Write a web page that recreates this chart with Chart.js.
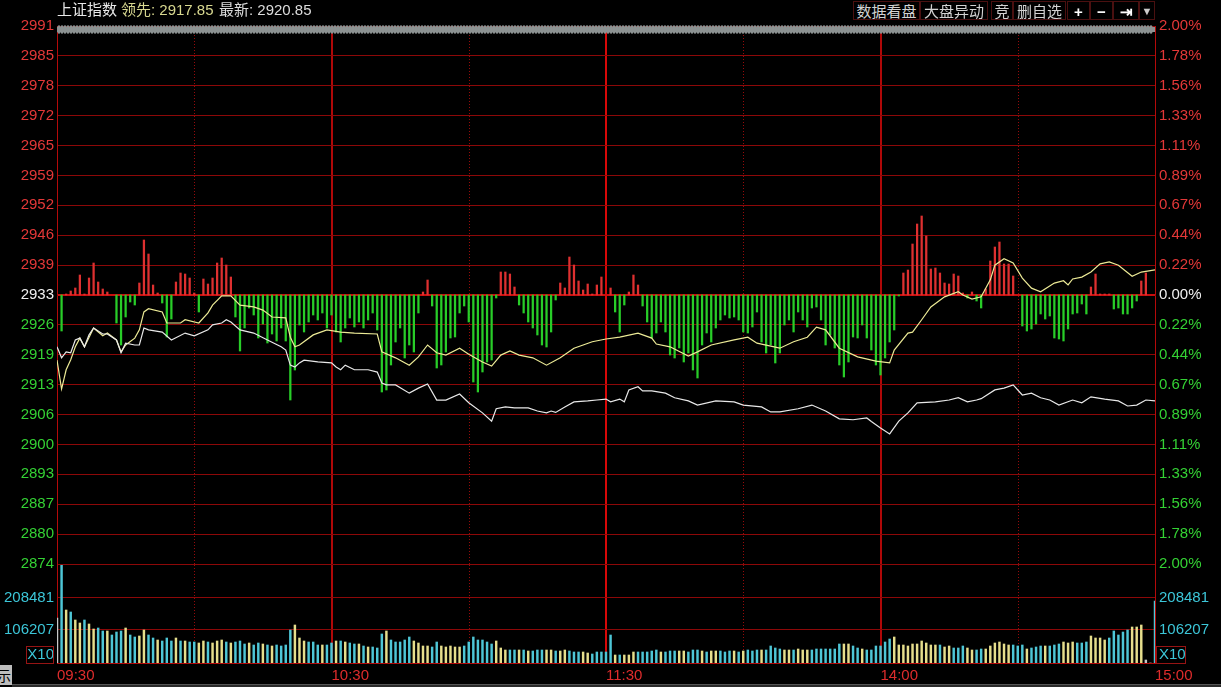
<!DOCTYPE html>
<html>
<head>
<meta charset="utf-8">
<script src="https://cdn.jsdelivr.net/npm/chart.js@4.4.1/dist/chart.umd.min.js"></script>
<style>
  body { margin: 0; background: #000; overflow: hidden; }
  #wrap { position: relative; width: 1221px; height: 687px; background: #000; }
  #wrap canvas { position: absolute; left: 0; top: 0; }
  .hdr { position: absolute; top: 1px; font: 15px "Liberation Sans", "Noto Sans CJK SC", sans-serif; line-height: 18px; white-space: nowrap; }
  .btn { position: absolute; top: 1px; height: 19px; border: 1px solid #4a1010; color: #d2d2d2; background: #000;
         font: 15px "Liberation Sans", "Noto Sans CJK SC", sans-serif; line-height: 19px; text-align: center; box-sizing: border-box; }
  .tab { position: absolute; left: 0; top: 665px; width: 12px; height: 20px; background: #bdbdbd; overflow: hidden;
         font: 14px "Noto Sans CJK SC", sans-serif; color: #000; line-height: 20px; text-indent: -3px; }
  .foot { position: absolute; left: 12px; top: 684px; width: 1209px; height: 3px; background: #2a2a2a; border-top: 1px solid #555; }
</style>
</head>
<body>
<div id="wrap">
  <canvas id="price" width="1221" height="687"></canvas>
  <canvas id="volume" width="1221" height="687"></canvas>

  <div class="hdr" style="left:57px;color:#e8e8e8">上证指数</div>
  <div class="hdr" style="left:121px;color:#d8d890">领先: 2917.85</div>
  <div class="hdr" style="left:219px;color:#dcdcdc">最新: 2920.85</div>

  <div class="btn" style="left:853px;width:67px">数据看盘</div>
  <div class="btn" style="left:920px;width:68px">大盘异动</div>
  <div class="btn" style="left:991px;width:22px">竞</div>
  <div class="btn" style="left:1013px;width:53px">删自选</div>
  <div class="btn" style="left:1067px;width:23px;font-weight:bold;color:#fff">+</div>
  <div class="btn" style="left:1090px;width:23px;font-weight:bold;color:#fff">−</div>
  <div class="btn" style="left:1113px;width:26px;font-weight:bold;color:#fff">⇥</div>
  <div class="btn" style="left:1139px;width:16px;font-size:11px;color:#ccc">▼</div>

  <div class="tab">示</div>
  <div class="foot"></div>
</div>

<script>
// ---- data ----
const prevClose = 2932.6;

const leftLabels = ['2991', '2985', '2978', '2972', '2965', '2959', '2952', '2946', '2939', '2933',
                    '2926', '2919', '2913', '2906', '2900', '2893', '2887', '2880', '2874'];
const rightLabels = ['2.00%', '1.78%', '1.56%', '1.33%', '1.11%', '0.89%', '0.67%', '0.44%', '0.22%', '0.00%',
                     '0.22%', '0.44%', '0.67%', '0.89%', '1.11%', '1.33%', '1.56%', '1.78%', '2.00%'];
const timeLabels = ['09:30', '10:30', '11:30', '14:00', '15:00'];
const volLabels = ['X10', '106207', '208481'];
const volTicks = [25600, 106207, 208481];

// white line (index) : minute, value
const whiteT = [0, 1, 2, 3, 4, 5, 6, 7, 8, 10, 11, 13, 14, 15, 17, 18, 19, 20, 23, 25, 28, 30, 33, 34, 36, 37, 38, 40, 43, 46,
  49, 50, 51, 52, 53, 54, 57, 60, 61, 62, 63, 65, 68, 70, 71, 72, 74, 77, 79, 81, 83, 85, 88, 90, 93, 95, 96, 98, 100, 103,
  105, 107, 108, 109, 111, 113, 116, 118, 120, 121, 123, 124, 125, 127, 128, 130, 133, 135, 138, 140, 144, 148, 150, 154, 156, 158, 162, 165, 168, 171,
  174, 177, 178, 180, 182, 184, 186, 188, 192, 195, 197, 199, 201, 202, 205, 207, 209, 211, 213, 215, 217, 219, 222, 224, 226, 229, 232, 234, 236, 238, 240];
const whiteV = [2921.3, 2918.9, 2920.2, 2920.0, 2922.8, 2923.2, 2921.3, 2923.9, 2925.4, 2924.1, 2924.1, 2922.8, 2920.0, 2922.1, 2921.7, 2921.7, 2925.4, 2925.0, 2924.5, 2922.8, 2924.3, 2923.7, 2925.0, 2926.1, 2926.5, 2927.2, 2926.7, 2925.0, 2924.3, 2922.8,
  2921.3, 2920.6, 2917.3, 2916.9, 2917.8, 2918.4, 2918.0, 2917.8, 2916.9, 2916.3, 2917.3, 2916.3, 2916.3, 2915.8, 2913.4, 2913.0, 2913.0, 2911.2, 2912.3, 2913.2, 2909.7, 2909.7, 2911.0, 2909.1, 2906.9, 2905.1, 2907.8, 2908.2, 2908.0, 2908.0,
  2907.3, 2906.9, 2907.3, 2907.0, 2908.2, 2909.3, 2909.5, 2909.7, 2909.9, 2909.3, 2909.9, 2909.3, 2911.9, 2912.6, 2911.7, 2911.7, 2911.2, 2910.2, 2909.5, 2908.6, 2909.5, 2909.3, 2908.6, 2908.2, 2907.1, 2907.1, 2907.8, 2908.6, 2907.3, 2905.6,
  2905.4, 2905.8, 2905.0, 2903.6, 2902.3, 2905.1, 2906.9, 2909.1, 2909.3, 2909.7, 2910.2, 2909.3, 2909.7, 2910.0, 2911.9, 2912.3, 2913.0, 2910.8, 2911.2, 2910.2, 2909.7, 2908.6, 2909.7, 2909.1, 2910.4, 2909.9, 2909.5, 2908.4, 2908.6, 2909.7, 2909.5];

// yellow line (lead index) : minute, value
const yellowT = [0, 1, 2, 3, 4, 5, 6, 8, 10, 11, 13, 14, 15, 17, 18, 19, 20, 23, 24, 27, 28, 31, 33, 34, 36, 38, 40, 43, 45, 47,
  50, 51, 52, 53, 56, 59, 62, 65, 70, 71, 74, 77, 79, 81, 83, 85, 88, 90, 93, 95, 97, 99, 101, 104, 107, 110, 113, 117, 120, 123,
  127, 130, 131, 134, 138, 140, 143, 148, 151, 153, 158, 161, 164, 166, 168, 171, 175, 179, 182, 183, 186, 187, 189, 191, 194, 197, 198, 200, 202, 204,
  205, 207, 209, 211, 213, 215, 218, 220, 221, 222, 224, 226, 228, 230, 232, 235, 237, 240];
const yellowV = [2918.4, 2912.1, 2916.3, 2918.5, 2921.3, 2923.2, 2921.3, 2925.4, 2923.7, 2924.3, 2922.8, 2920.2, 2921.7, 2923.2, 2925.0, 2928.9, 2929.6, 2928.9, 2926.5, 2926.5, 2927.2, 2926.5, 2928.7, 2930.4, 2932.4, 2932.4, 2930.4, 2930.0, 2929.3, 2927.8,
  2927.6, 2923.4, 2921.3, 2921.7, 2923.9, 2925.0, 2924.5, 2924.3, 2924.1, 2920.2, 2918.9, 2917.3, 2919.1, 2921.7, 2920.0, 2919.5, 2921.0, 2919.7, 2918.0, 2917.1, 2919.5, 2920.4, 2919.5, 2918.9, 2917.3, 2918.9, 2921.0, 2922.4, 2923.0, 2923.4,
  2924.3, 2923.2, 2921.9, 2921.3, 2919.3, 2920.2, 2921.7, 2922.8, 2923.4, 2922.1, 2921.0, 2922.4, 2923.4, 2925.6, 2925.0, 2921.0, 2919.1, 2918.2, 2917.8, 2920.6, 2924.3, 2924.5, 2927.2, 2930.0, 2932.2, 2933.3, 2932.6, 2931.7, 2932.2, 2935.9,
  2939.1, 2940.5, 2939.6, 2936.3, 2934.1, 2933.3, 2935.2, 2935.7, 2934.8, 2936.1, 2936.5, 2937.6, 2939.4, 2939.8, 2939.1, 2936.7, 2937.6, 2938.1];

// buy/sell strength per minute (+ red, - green)
const strength = [
  0, -36, 1, 4, 7, 20, 1, 17, 32, 13,
  6, 3, 0, -28, -50, -22, -7, -10, 12, 55,
  41, 10, 2, -8, -42, -24, 13, 22, 21, 17,
  2, -17, 16, 11, 17, 32, 37, 30, 18, -22,
  -56, -33, -13, -20, -43, -29, -48, -39, -46, -33,
  -46, -105, -75, -30, -37, -27, -20, -25, -18, -33,
  -20, -37, -47, -33, -23, -32, -27, -33, -25, -18,
  -35, -97, -95, -70, -47, -33, -63, -50, -57, -18,
  3, 15, -11, -73, -70, -57, -43, -42, -18, -11,
  -27, -87, -97, -77, -67, -65, -3, 23, 23, 21,
  8, -10, -18, -27, -33, -40, -50, -52, -37, -5,
  12, 7, 38, 30, 14, 5, 11, 1, 10, 18,
  0, 7, -17, -37, -10, 3, 20, 10, -11, -27,
  -43, -38, -27, -37, -60, -63, -53, -67, -58, -75,
  -83, -50, -38, -47, -33, -25, -20, -23, -22, -25,
  -37, -38, -32, -17, -47, -58, -50, -68, -58, -30,
  -25, -37, -17, -25, -32, -13, -12, -25, -50, -40,
  -53, -70, -82, -67, -42, -43, -30, -43, -55, -70,
  -80, -63, -47, -35, -1, 22, 25, 51, 71, 79,
  59, 26, 27, 22, 12, 11, 21, 19, 2, -3,
  3, -6, -13, 6, 34, 48, 53, 31, 31, 19,
  0, -31, -36, -34, -29, -19, -24, -21, -43, -44,
  -46, -34, -19, -18, -9, -19, 8, 21, 1, 1,
  1, -14, -13, -19, -19, -13, -6, 14, 22, 0,
  0];

// volume per minute
const volume = [
  144000, 313000, 169600, 163200, 137600, 128000, 137600, 124800, 108800, 112000,
  102400, 102400, 89600, 99200, 102400, 112000, 89600, 83200, 86400, 105600,
  89600, 80000, 73600, 70400, 80000, 70400, 80000, 70400, 70400, 67200,
  67200, 64000, 70400, 67200, 64000, 70400, 73600, 67200, 64000, 67200,
  70400, 60800, 64000, 57600, 64000, 60800, 57600, 54400, 57600, 54400,
  57600, 105600, 121600, 80000, 70400, 67200, 67200, 57600, 57600, 57600,
  64000, 70400, 70400, 67200, 64000, 60800, 60800, 54400, 51200, 51200,
  48000, 92800, 102400, 73600, 67200, 67200, 73600, 83200, 70400, 64000,
  54400, 54400, 51200, 67200, 54400, 51200, 54400, 51200, 51200, 54400,
  67200, 83200, 73600, 73600, 67200, 60800, 70400, 48000, 41600, 41600,
  41600, 41600, 41600, 38400, 38400, 41600, 41600, 41600, 41600, 38400,
  38400, 41600, 38400, 35200, 35200, 35200, 32000, 28800, 35200, 35200,
  35200, 89600, 25600, 25600, 25600, 25600, 35200, 35200, 35200, 35200,
  38400, 41600, 35200, 35200, 38400, 38400, 38400, 38400, 35200, 41600,
  41600, 38400, 35200, 38400, 38400, 38400, 35200, 38400, 38400, 35200,
  38400, 41600, 38400, 41600, 41600, 41600, 54400, 48000, 44800, 41600,
  41600, 41600, 44800, 41600, 41600, 41600, 44800, 44800, 44800, 44800,
  44800, 60800, 60800, 60800, 54400, 48000, 44800, 41600, 41600, 54400,
  54400, 67200, 76800, 83200, 57600, 57600, 54400, 60800, 60800, 70400,
  64000, 57600, 57600, 57600, 51200, 54400, 48000, 48000, 54400, 48000,
  41600, 41600, 44800, 44800, 54400, 64000, 67200, 60800, 57600, 57600,
  54400, 57600, 44800, 48000, 51200, 54400, 54400, 54400, 57600, 60800,
  67200, 64000, 67200, 64000, 64000, 67200, 86400, 80000, 80000, 73600,
  80000, 102400, 89600, 99200, 105600, 115200, 115200, 121600, 9600, 0,
  198400];

// tick direction per minute: u = up, d = down, e = flat
const volDir =
  'eududduddu' + 'uduuuduudd' + 'uuduuududu' + 'uddudddudu' + 'uuduududuu' +
  'uuddduuudu' + 'ududuududu' + 'uuduuuuudd' + 'dduudddddu' + 'uuuuuudddu' +
  'ududuuuddu' + 'dduuudduuu' + 'uududdduuu' + 'uuduuudduu' + 'ududduuudu' +
  'duuuduuuud' + 'duddduuuuu' + 'uudduuduuu' + 'uuuddddddd' + 'dddudduuud' +
  'duuddddddu' + 'uuduuuduuu' + 'ddduuudddd' + 'uuuuudddee' + 'u';

// ---- styling ----
const FONT = '"Liberation Sans", Arial, sans-serif';
const RED_TXT = 'rgb(228,56,56)';
const GREEN_TXT = 'rgb(52,210,52)';
const CYAN_TXT = 'rgb(60,198,216)';
const GRID = 'rgb(140,8,8)';
const GRID_HI = 'rgb(200,14,14)';
const yMax = prevClose * 1.02;
const yMin = prevClose * 0.98;
const halfHours = [30, 90, 150, 210];
const hourTicks = [0, 60, 120, 180, 240];
const volMax = 313600;

function rowColor(k) {
  if (k < 9) return RED_TXT;
  if (k === 9) return '#f0f0f0';
  return GREEN_TXT;
}

function priceTicks(scale) {
  scale.ticks = leftLabels.map((_, k) => ({ value: yMin + k * (yMax - yMin) / 18 }));
}

function vGrid(ctx) {
  const v = ctx.tick && ctx.tick.value;
  if (v === 0 || v === 240) return 'rgba(0,0,0,0)';
  return v === 120 ? 'rgb(215,8,8)' : 'rgb(175,8,8)';
}

const dottedGuides = {
  id: 'dottedGuides',
  beforeDatasetsDraw(chart) {
    const { ctx, chartArea: a, scales: { x } } = chart;
    ctx.save();
    ctx.strokeStyle = 'rgb(150,10,10)';
    ctx.lineWidth = 1;
    ctx.setLineDash([1, 2]);
    halfHours.forEach(t => {
      const px = Math.round(x.getPixelForValue(t)) + 0.5;
      ctx.beginPath();
      ctx.moveTo(px, a.top);
      ctx.lineTo(px, a.bottom);
      ctx.stroke();
    });
    ctx.restore();
  }
};

// the grey scroll strip along the top edge
const topStrip = {
  id: 'topStrip',
  afterDraw(chart) {
    const { ctx, chartArea: a } = chart;
    ctx.save();
    ctx.fillStyle = '#8c9292';
    ctx.fillRect(a.left, a.top + 1, a.right - a.left, 5);
    for (let px = a.left + 2; px < a.right - 1; px += 3) {
      ctx.beginPath();
      ctx.ellipse(px, a.top + 3.5, 1.8, 4.2, 0, 0, Math.PI * 2);
      ctx.fill();
    }
    ctx.restore();
  }
};

const x10Box = {
  id: 'x10Box',
  afterDraw(chart) {
    const { ctx, scales } = chart;
    const yy = scales.v.getPixelForValue(volTicks[0]);
    ctx.save();
    ctx.strokeStyle = 'rgb(150,20,20)';
    ctx.lineWidth = 1;
    ctx.strokeRect(scales.v.right - 30.5, yy - 8.5, 27, 17);
    ctx.strokeRect(scales.vR.left + 1.5, yy - 8.5, 29, 17);
    ctx.restore();
  }
};

// ---- price panel ----
new Chart(document.getElementById('price'), {
  data: {
    datasets: [
      {
        type: 'line',
        data: yellowT.map((t, i) => ({ x: t, y: yellowV[i] })),
        yAxisID: 'y',
        borderColor: 'rgb(236,234,150)',
        borderWidth: 1.2,
        pointRadius: 0,
        tension: 0,
        order: 1
      },
      {
        type: 'line',
        data: whiteT.map((t, i) => ({ x: t, y: whiteV[i] })),
        yAxisID: 'y',
        borderColor: 'rgb(232,232,232)',
        borderWidth: 1.2,
        pointRadius: 0,
        tension: 0,
        order: 0
      },
      {
        type: 'bar',
        data: strength.map((s, i) => (s ? { x: i, y: [0, s] } : null)).filter(Boolean),
        yAxisID: 'yS',
        backgroundColor: ctx => (ctx.raw && ctx.raw.y[1] > 0 ? 'rgb(222,48,48)' : 'rgb(40,205,40)'),
        barThickness: 1.6,
        order: 2
      }
    ]
  },
  options: {
    responsive: false,
    animation: false,
    events: [],
    layout: { padding: { top: 26, bottom: 123, left: 0, right: 0 } },
    plugins: { legend: { display: false }, tooltip: { enabled: false } },
    scales: {
      x: {
        type: 'linear', min: 0, max: 240, offset: false,
        afterBuildTicks: s => { s.ticks = hourTicks.map(v => ({ value: v })); },
        afterFit: s => { s.height = 0; },
        ticks: { display: false },
        grid: { color: vGrid, lineWidth: 2, drawTicks: false, offset: false },
        border: { display: false }
      },
      y: {
        type: 'linear', position: 'left', min: yMin, max: yMax,
        afterBuildTicks: priceTicks,
        afterFit: s => { s.width = 57; },
        ticks: {
          autoSkip: false, padding: 3,
          font: { family: FONT, size: 15 },
          color: c => rowColor(18 - c.index),
          callback: (v, i) => leftLabels[18 - i]
        },
        grid: {
          color: c => (c.index === 9 ? GRID_HI : GRID),
          lineWidth: c => (c.index === 9 ? 2 : 1),
          drawTicks: false
        },
        border: { color: 'rgb(180,10,10)' }
      },
      yR: {
        type: 'linear', position: 'right', min: yMin, max: yMax,
        afterBuildTicks: priceTicks,
        afterFit: s => { s.width = 66; },
        ticks: {
          autoSkip: false, padding: 4,
          font: { family: FONT, size: 15 },
          color: c => rowColor(18 - c.index),
          callback: (v, i) => rightLabels[18 - i]
        },
        grid: { drawOnChartArea: false, drawTicks: false },
        border: { color: 'rgb(180,10,10)' }
      },
      yS: { type: 'linear', min: -269, max: 269, display: false }
    }
  },
  plugins: [dottedGuides, topStrip]
});

// ---- volume panel ----
const volColor = { u: 'rgb(78,198,214)', d: 'rgb(230,222,140)', e: 'rgb(200,200,200)' };

new Chart(document.getElementById('volume'), {
  type: 'bar',
  data: {
    datasets: [{
      data: volume.map((v, i) => ({ x: i, y: v })),
      yAxisID: 'v',
      backgroundColor: volume.map((v, i) => volColor[volDir[i]]),
      barThickness: 1.8
    }]
  },
  options: {
    responsive: false,
    animation: false,
    events: [],
    layout: { padding: { top: 565, bottom: 0, left: 0, right: 0 } },
    plugins: { legend: { display: false }, tooltip: { enabled: false } },
    scales: {
      x: {
        type: 'linear', min: 0, max: 240, offset: false,
        afterBuildTicks: s => { s.ticks = hourTicks.map(v => ({ value: v })); },
        afterFit: s => { s.height = 24; },
        ticks: {
          autoSkip: false, maxRotation: 0, align: 'start', padding: 4,
          font: { family: FONT, size: 15 }, color: 'rgb(222,44,44)',
          callback: (v, i) => timeLabels[i]
        },
        grid: { color: vGrid, lineWidth: 2, drawTicks: false, offset: false },
        border: { color: 'rgb(180,10,10)' }
      },
      v: {
        type: 'linear', position: 'left', min: 0, max: volMax,
        afterBuildTicks: s => { s.ticks = volTicks.map(v => ({ value: v })); },
        afterFit: s => { s.width = 57; },
        ticks: {
          autoSkip: false, padding: 3,
          font: { family: FONT, size: 15 }, color: CYAN_TXT,
          callback: (v, i) => volLabels[i]
        },
        grid: { color: c => (c.index === 0 ? 'rgba(0,0,0,0)' : GRID), drawTicks: false },
        border: { color: 'rgb(180,10,10)' }
      },
      vR: {
        type: 'linear', position: 'right', min: 0, max: volMax,
        afterBuildTicks: s => { s.ticks = volTicks.map(v => ({ value: v })); },
        afterFit: s => { s.width = 66; },
        ticks: {
          autoSkip: false, padding: 4,
          font: { family: FONT, size: 15 }, color: CYAN_TXT,
          callback: (v, i) => volLabels[i]
        },
        grid: { drawOnChartArea: false, drawTicks: false },
        border: { color: 'rgb(180,10,10)' }
      }
    }
  },
  plugins: [dottedGuides, x10Box]
});
</script>
</body>
</html>
